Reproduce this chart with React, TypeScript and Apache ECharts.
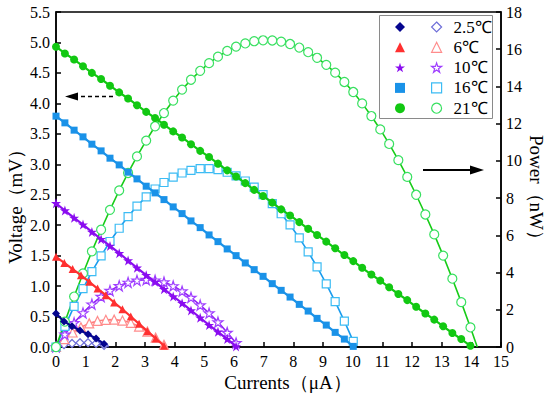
import React, { useEffect, useRef } from "react";
import * as echarts from "echarts";

// ---- data ----
const temperatures = ["2.5℃", "6℃", "10℃", "16℃", "21℃"];

const currents2_5 = [0, 0.27, 0.54, 0.81, 1.08, 1.35, 1.62];
const voltage2_5 = [0.55, 0.42, 0.34, 0.27, 0.21, 0.14, 0.05];
const power2_5 = [0, 0.12, 0.19, 0.23, 0.23, 0.19, 0.09];

const currents6 = [0, 0.28, 0.56, 0.84, 1.12, 1.4, 1.68, 1.96, 2.24, 2.52, 2.8, 3.08, 3.36, 3.64];
const voltage6 = [1.48, 1.38, 1.28, 1.18, 1.07, 0.96, 0.85, 0.73, 0.62, 0.5, 0.38, 0.26, 0.14, 0.02];
const power6 = [0, 0.42, 0.78, 1.06, 1.27, 1.4, 1.46, 1.47, 1.42, 1.3, 1.1, 0.83, 0.5, 0.12];

const currents10 = [0, 0.3, 0.61, 0.91, 1.21, 1.52, 1.82, 2.13, 2.43, 2.73, 3.04, 3.34, 3.64, 3.95, 4.25, 4.55, 4.86, 5.16, 5.46, 5.77, 6.07];
const voltage10 = [2.36, 2.24, 2.12, 2.01, 1.89, 1.77, 1.66, 1.54, 1.42, 1.3, 1.18, 1.07, 0.95, 0.83, 0.72, 0.6, 0.48, 0.36, 0.25, 0.13, 0.01];
const power10 = [0, 0.68, 1.3, 1.83, 2.3, 2.71, 3.03, 3.29, 3.47, 3.58, 3.62, 3.59, 3.49, 3.28, 3.0, 2.66, 2.25, 1.82, 1.34, 0.78, 0.22];

const currents16 = [0, 0.3, 0.61, 0.91, 1.21, 1.52, 1.82, 2.13, 2.43, 2.73, 3.04, 3.34, 3.64, 3.95, 4.25, 4.55, 4.86, 5.16, 5.46, 5.77, 6.07, 6.38, 6.68, 6.98, 7.29, 7.59, 7.89, 8.2, 8.5, 8.8, 9.11, 9.41, 9.72, 10.02];
const voltage16 = [3.79, 3.68, 3.56, 3.45, 3.33, 3.22, 3.1, 2.99, 2.87, 2.76, 2.64, 2.53, 2.42, 2.3, 2.19, 2.07, 1.96, 1.84, 1.73, 1.61, 1.5, 1.38, 1.27, 1.16, 1.04, 0.93, 0.82, 0.7, 0.59, 0.47, 0.36, 0.24, 0.13, 0.01];
const power16 = [0, 1.11, 2.18, 3.14, 4.05, 4.9, 5.67, 6.38, 7.01, 7.57, 8.07, 8.49, 8.84, 9.13, 9.35, 9.49, 9.58, 9.58, 9.53, 9.39, 9.2, 8.92, 8.59, 8.19, 7.7, 7.16, 6.56, 5.86, 5.11, 4.3, 3.39, 2.44, 1.39, 0.3];

const currents21 = [0, 0.3, 0.61, 0.91, 1.21, 1.52, 1.82, 2.13, 2.43, 2.73, 3.04, 3.34, 3.64, 3.95, 4.25, 4.55, 4.86, 5.16, 5.46, 5.77, 6.07, 6.38, 6.68, 6.98, 7.29, 7.59, 7.89, 8.2, 8.5, 8.8, 9.11, 9.41, 9.72, 10.02, 10.32, 10.63, 10.93, 11.23, 11.54, 11.84, 12.14, 12.45, 12.75, 13.05, 13.36, 13.66, 13.97];
const voltage21 = [4.93, 4.82, 4.72, 4.61, 4.5, 4.4, 4.29, 4.18, 4.08, 3.97, 3.86, 3.76, 3.65, 3.54, 3.44, 3.33, 3.22, 3.12, 3.01, 2.9, 2.8, 2.69, 2.58, 2.48, 2.37, 2.26, 2.16, 2.05, 1.94, 1.84, 1.73, 1.62, 1.51, 1.41, 1.3, 1.19, 1.09, 0.98, 0.87, 0.77, 0.66, 0.55, 0.45, 0.34, 0.23, 0.13, 0.02];
const power21 = [0, 1.36, 2.71, 3.95, 5.14, 6.3, 7.37, 8.41, 9.35, 10.24, 11.09, 11.86, 12.57, 13.24, 13.83, 14.36, 14.84, 15.25, 15.6, 15.91, 16.14, 16.31, 16.43, 16.48, 16.47, 16.41, 16.28, 16.09, 15.84, 15.54, 15.16, 14.74, 14.24, 13.7, 13.09, 12.41, 11.69, 10.91, 10.04, 9.14, 8.18, 7.12, 6.05, 4.91, 3.67, 2.41, 1.05];

// current at which each power curve returns to zero
const powerZeroCurrents = [1.78, 3.75, 6.15, 10.1, 14.2];

const xTicks = { min: 0, max: 15, interval: 1 };
const yLeftTicks = { min: 0, max: 5.5, interval: 0.5 };
const yRightTicks = { min: 0, max: 18, interval: 2 };

// ---- styles ----
const STAR =
  "path://M50,0 L61.8,36.2 L100,36.2 L69.1,58.8 L80.9,95.1 L50,72.6 L19.1,95.1 L30.9,58.8 L0,36.2 L38.2,36.2 Z";
const FONT = "Liberation Serif";

const filledColors = ["#05058f", "#ff3030", "#8a0cf0", "#1a92e8", "#12c812"];
const hollowColors = ["#6e6ed8", "#ff8c8c", "#a040ff", "#3cbcf4", "#38e060"];
const powerLineColors = ["#4a4ac8", "#ff7a7a", "#9020f4", "#1a9cee", "#18cc18"];
const symbols = ["diamond", "triangle", STAR, "rect", "circle"];
const filledSizes = [8, 8, 10, 7, 8];
const hollowSizes = [8, 9, 10, 8, 9];

const allCurrents = [currents2_5, currents6, currents10, currents16, currents21];
const allVoltages = [voltage2_5, voltage6, voltage10, voltage16, voltage21];
const allPowers = [power2_5, power6, power10, power16, power21];

function pairs(xs: number[], ys: number[]) {
  return xs.map((x, i) => [x, ys[i]]);
}

export default function App() {
  const ref = useRef<HTMLDivElement>(null);

  useEffect(() => {
    if (!ref.current) return;
    const chart = echarts.init(ref.current, undefined, { renderer: "svg" });

    const voltageSeries = temperatures.map((t, i) => ({
      name: "V " + t,
      type: "line",
      yAxisIndex: 0,
      data: pairs(allCurrents[i], allVoltages[i]),
      symbol: symbols[i],
      symbolSize: filledSizes[i],
      showAllSymbol: true,
      lineStyle: { color: filledColors[i], width: 2.2 },
      itemStyle: { color: filledColors[i], borderWidth: 0 },
      z: 3,
    }));

    const powerSeries = temperatures.map((t, i) => ({
      name: t,
      type: "line",
      yAxisIndex: 1,
      data: [
        ...pairs(allCurrents[i], allPowers[i]),
        { value: [powerZeroCurrents[i], 0], symbol: "none" },
      ],
      symbol: symbols[i],
      symbolSize: hollowSizes[i],
      showAllSymbol: true,
      lineStyle: { color: powerLineColors[i], width: 1.6 },
      itemStyle: { color: "#fff", borderColor: hollowColors[i], borderWidth: 1.2 },
      z: 2,
    }));

    const axisCommon = {
      axisLine: { show: true, lineStyle: { color: "#000", width: 1.5 } },
      axisTick: { show: true, inside: true, length: 5, lineStyle: { color: "#000", width: 1.5 } },
      splitLine: { show: false },
    };

    const nameStyle = {
      fontFamily: FONT,
      fontSize: 19,
      fill: "#000",
      textAlign: "center",
      textVerticalAlign: "middle",
    };

    chart.setOption({
      animation: false,
      backgroundColor: "#fff",
      grid: {
        left: 56,
        right: 49,
        top: 12,
        bottom: 53,
        show: true,
        borderColor: "#000",
        borderWidth: 1.5,
        backgroundColor: "transparent",
      },
      xAxis: {
        type: "value",
        ...xTicks,
        ...axisCommon,
        axisLabel: { fontFamily: FONT, fontSize: 16, color: "#000", margin: 6 },
      },
      yAxis: [
        {
          type: "value",
          position: "left",
          ...yLeftTicks,
          ...axisCommon,
          axisLabel: {
            fontFamily: FONT,
            fontSize: 16,
            color: "#000",
            margin: 6,
            formatter: (v: number) => v.toFixed(1),
          },
        },
        {
          type: "value",
          position: "right",
          ...yRightTicks,
          ...axisCommon,
          axisLabel: { fontFamily: FONT, fontSize: 16, color: "#000", margin: 5 },
        },
      ],
      legend: [
        {
          left: 395,
          top: 17,
          orient: "vertical",
          padding: 0,
          itemWidth: 10,
          itemHeight: 10,
          itemGap: 0.3,
          selectedMode: false,
          formatter: () => " ",
          textStyle: { fontSize: 16, lineHeight: 20, fontFamily: FONT },
          data: temperatures.map((t, i) => ({
            name: "V " + t,
            icon: symbols[i],
            itemStyle: { color: filledColors[i], borderWidth: 0 },
          })),
        },
        {
          left: 431,
          top: 17,
          orient: "vertical",
          padding: 0,
          itemWidth: 10,
          itemHeight: 10,
          itemGap: 0.3,
          selectedMode: false,
          textStyle: {
            fontSize: 17,
            lineHeight: 20,
            fontFamily: FONT,
            color: "#000",
            padding: [0, 0, 0, 7],
          },
          data: temperatures.map((t, i) => ({
            name: t,
            icon: symbols[i],
            itemStyle: { color: "#fff", borderColor: hollowColors[i], borderWidth: 1.2 },
          })),
        },
      ],
      graphic: [
        {
          type: "rect",
          shape: { x: 379.5, y: 15.5, width: 113, height: 103 },
          style: { fill: "none", stroke: "#8a8a8a", lineWidth: 1 },
          z: 1,
        },
        {
          type: "text",
          x: 288,
          y: 382,
          style: { text: "Currents（μA）", ...nameStyle },
        },
        {
          type: "text",
          x: 15,
          y: 202,
          rotation: Math.PI / 2,
          style: { text: "Voltage（mV）", ...nameStyle },
        },
        {
          type: "text",
          x: 536,
          y: 192,
          rotation: -Math.PI / 2,
          style: { text: "Power（nW）", ...nameStyle },
        },
        {
          type: "line",
          shape: { x1: 113, y1: 96.5, x2: 76, y2: 96.5 },
          style: { stroke: "#000", lineWidth: 1.5, lineDash: [4, 3] },
        },
        {
          type: "polygon",
          shape: { points: [[65, 96.5], [78, 92.5], [78, 100.5]] },
          style: { fill: "#000" },
        },
        {
          type: "line",
          shape: { x1: 423, y1: 170, x2: 472, y2: 170 },
          style: { stroke: "#000", lineWidth: 1.8 },
        },
        {
          type: "polygon",
          shape: { points: [[484, 170], [470, 165.5], [470, 174.5]] },
          style: { fill: "#000" },
        },
      ],
      series: [...powerSeries, ...voltageSeries],
    });

    return () => chart.dispose();
  }, []);

  return (
    <div
      ref={ref}
      style={{ position: "fixed", left: 0, top: 0, width: 550, height: 400, background: "#fff" }}
    />
  );
}
